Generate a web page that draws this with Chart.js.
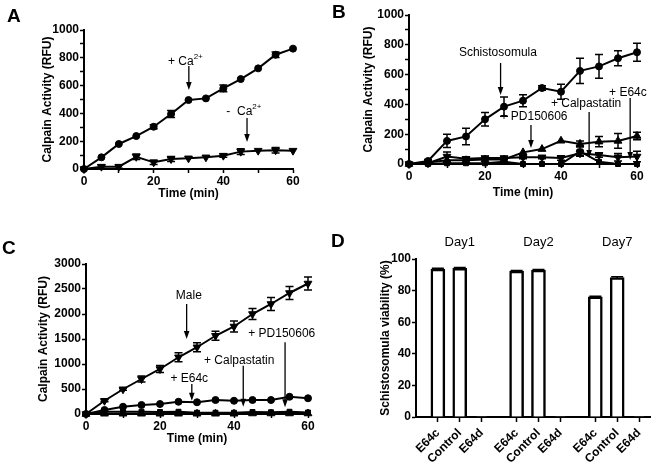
<!DOCTYPE html>
<html><head><meta charset="utf-8">
<script src="https://cdn.jsdelivr.net/npm/chart.js@4.4.1/dist/chart.umd.min.js"></script>
<style>
html,body{margin:0;padding:0;background:#fff;}
#wrap{position:relative;width:660px;height:468px;overflow:hidden;background:#fff;}
canvas{position:absolute;}
.lbl{position:absolute;font-family:'Liberation Sans',Arial,sans-serif;font-weight:bold;font-size:19px;line-height:19px;color:#000;}
</style></head><body>
<div id="wrap">
<canvas id="cA" width="330" height="234" style="left:0;top:0"></canvas>
<canvas id="cB" width="330" height="234" style="left:330px;top:0"></canvas>
<canvas id="cC" width="330" height="234" style="left:0;top:234px"></canvas>
<canvas id="cD" width="330" height="234" style="left:330px;top:234px"></canvas>
<div class="lbl" style="left:7px;top:6px">A</div>
<div class="lbl" style="left:332px;top:2px">B</div>
<div class="lbl" style="left:2px;top:238px">C</div>
<div class="lbl" style="left:331px;top:231px">D</div>
</div>
<script>
// ---------- data ----------
const times = [0,5,10,15,20,25,30,35,40,45,50,55,60];

// Panel A
const aPlusCa     = [0,84,180,237,304,396,496,508,580,647,724,822,866];
const aPlusCaErr  = [0,0,0,0,15,25,0,0,25,0,0,20,0];
const aMinusCa    = [0,17,17,88,48,72,77,84,96,125,132,135,132];
const aMinusCaErr = [0,12,12,20,15,18,0,0,12,20,0,20,0];

// Panel B
const bSchisto    = [0,20,155,185,300,385,425,510,485,625,655,710,750];
const bSchistoErr = [0,10,45,55,45,65,40,15,50,85,80,50,60];
const bPD         = [0,10,25,25,30,30,78,100,156,135,150,155,188];
const bPDErr      = [0,0,0,0,0,0,0,0,0,20,35,50,25];
const bCalp       = [0,5,50,35,40,40,45,45,40,72,60,45,50];
const bCalpErr    = [0,5,30,10,10,10,10,10,15,20,15,25,35];
const bE64c       = [0,0,5,5,5,15,0,0,0,85,15,0,0];
const bE64cErr    = [0,0,0,0,0,0,0,0,0,30,0,0,0];

// Panel C
const cMale       = [0,265,495,700,900,1135,1335,1565,1750,2000,2200,2420,2610];
const cMaleErr    = [0,20,20,60,70,90,90,90,110,110,130,130,130];
const cE64c       = [0,80,145,180,200,245,235,280,265,280,280,345,315];
const cCalp       = [0,45,45,45,40,45,25,25,25,40,35,45,30];
const cPD         = [0,5,5,5,5,5,5,5,5,10,10,10,10];

// Panel D
const dCats       = ['E64c','Control','E64d','E64c','Control','E64d','E64c','Control','E64d'];
const dViability  = [93.6,94.1,0.3,92.3,93.0,0.3,76.0,88.3,0.3];
const dErr        = [0.6,0.5,0,0.4,0.4,0,0.5,0.5,0];
const dDays       = ['Day1','Day2','Day7'];

// ---------- styling / helpers ----------
const FONT = "'Liberation Sans', Arial, sans-serif";
const TICK = {family: FONT, weight: 'bold', size: 12};
const TITLE = {family: FONT, weight: 'bold', size: 12};
const GROUP_SIZE = 3, GROUP_GAP = 0.6;
const dPos = dCats.map((c,i)=> i + Math.floor(i/GROUP_SIZE)*GROUP_GAP);

const errPlugin = {
  id:'errbars',
  afterDatasetsDraw(chart){
    const ctx = chart.ctx, ys = chart.scales.y;
    ctx.save();
    ctx.strokeStyle = '#000'; ctx.lineWidth = 1.5;
    chart.data.datasets.forEach((ds, di)=>{
      if(!ds.errors) return;
      const meta = chart.getDatasetMeta(di);
      meta.data.forEach((el, j)=>{
        const e = ds.errors[j]; if(!e) return;
        const v = ds.data[j].y;
        const x = el.x, yt = ys.getPixelForValue(v+e), yb = ys.getPixelForValue(Math.max(0,v-e));
        const cw = ds.capHalf || 4;
        ctx.beginPath();
        ctx.moveTo(x, yt); ctx.lineTo(x, yb);
        ctx.moveTo(x-cw, yt); ctx.lineTo(x+cw, yt);
        if(!ds.topOnly){ ctx.moveTo(x-cw, yb); ctx.lineTo(x+cw, yb); }
        ctx.stroke();
      });
    });
    ctx.restore();
  }
};

const annotPlugin = {
  id:'annot',
  afterDraw(chart, args, opts){
    const items = opts.items || [];
    const ctx = chart.ctx, xs = chart.scales.x, ys = chart.scales.y;
    ctx.save();
    ctx.fillStyle = '#000'; ctx.strokeStyle = '#000';
    for(const it of items){
      const tx = xs.getPixelForValue(it.tx), ty = ys.getPixelForValue(it.ty);
      ctx.font = '12px ' + FONT;
      const w1 = ctx.measureText(it.text).width;
      let w2 = 0;
      if(it.sup){ ctx.font = '8px ' + FONT; w2 = ctx.measureText(it.sup).width; }
      const x0 = tx - (w1+w2)/2;
      ctx.textBaseline = 'middle'; ctx.textAlign = 'left';
      ctx.font = '12px ' + FONT; ctx.fillText(it.text, x0, ty);
      if(it.sup){ ctx.font = '8px ' + FONT; ctx.fillText(it.sup, x0+w1, ty-5); }
      const ax = xs.getPixelForValue(it.ax), y1 = ys.getPixelForValue(it.ay1), y2 = ys.getPixelForValue(it.ay2);
      ctx.lineWidth = 1.3;
      ctx.beginPath(); ctx.moveTo(ax, y1); ctx.lineTo(ax, y2-6); ctx.stroke();
      ctx.beginPath(); ctx.moveTo(ax-2.8, y2-8); ctx.lineTo(ax+2.8, y2-8); ctx.lineTo(ax, y2); ctx.closePath(); ctx.fill();
    }
    ctx.restore();
  }
};

const dayPlugin = {
  id:'days',
  afterDraw(chart, args, opts){
    if(!opts.labels) return;
    const ctx = chart.ctx, xs = chart.scales.x;
    ctx.save();
    ctx.fillStyle = '#000'; ctx.font = '13px ' + FONT;
    ctx.textAlign = 'center'; ctx.textBaseline = 'middle';
    opts.labels.forEach((t,g)=>{
      ctx.fillText(t, xs.getPixelForValue(dPos[g*GROUP_SIZE+1]), opts.y);
    });
    ctx.restore();
  }
};

function series(vals, errs, style, extra){
  return Object.assign({
    data: times.map((t,i)=>({x:t, y:vals[i]})),
    errors: errs,
    borderColor:'#000', backgroundColor:'#000',
    pointBackgroundColor:'#000', pointBorderColor:'#000',
    borderWidth:2, pointStyle:style, pointRadius:3.5, pointBorderWidth:1,
    tension:0, clip:false
  }, extra||{});
}

function gridOpts(){ return {display:true, drawOnChartArea:false, drawTicks:true, tickLength:4, tickColor:'#000', tickWidth:1.5, color:'#000'}; }

function lineChart(id, o){
  return new Chart(document.getElementById(id), {
    type:'line',
    data:{datasets:o.datasets},
    options:{
      responsive:false, animation:false, events:[],
      layout:{padding:o.pad},
      plugins:{legend:{display:false}, tooltip:{enabled:false}, annot:{items:o.annots}},
      scales:{
        x:{type:'linear', min:0, max:60,
          ticks:{stepSize:10, autoSkip:false, maxRotation:0, color:'#000', font:TICK, padding:1, callback:v=> v%20===0 ? v : ''},
          grid:gridOpts(), border:{display:true, color:'#000', width:2},
          title:{display:true, text:'Time (min)', color:'#000', font:TITLE, padding:{top:0,bottom:0}},
          afterFit:s=>{ s.height = o.xH; }},
        y:{type:'linear', min:0, max:o.yMax,
          ticks:{stepSize:o.yStep, autoSkip:false, color:'#000', font:TICK, padding:1, callback:v=> v%o.yMajor===0 ? v : ''},
          grid:gridOpts(), border:{display:true, color:'#000', width:2},
          title:{display:true, text:'Calpain Activity (RFU)', color:'#000', font:TITLE, padding:{top:0,bottom:0}},
          afterFit:s=>{ s.width = o.yW; }}
      }
    },
    plugins:[errPlugin, annotPlugin]
  });
}

const DOWN = {pointRotation:180, pointRadius:4.5};
const UP = {pointRadius:4.5};

// ---------- Panel A ----------
lineChart('cA', {
  pad:{left:40, top:30, right:37, bottom:33}, yW:44, xH:32, yMax:1000, yStep:100, yMajor:200,
  datasets:[ series(aPlusCa, aPlusCaErr, 'circle'), series(aMinusCa, aMinusCaErr, 'triangle', DOWN) ],
  annots:[
    {text:'+ Ca', sup:'2+', tx:29.1, ty:772, ax:30.1, ay1:741, ay2:568},
    {text:'-  Ca', sup:'2+', tx:45.9, ty:412, ax:46.8, ay1:367, ay2:194}
  ]
});

// ---------- Panel B ----------
lineChart('cB', {
  pad:{left:31, top:15, right:23, bottom:34}, yW:48, xH:36, yMax:1000, yStep:100, yMajor:200,
  datasets:[
    series(bSchisto, bSchistoErr, 'circle'),
    series(bPD, bPDErr, 'triangle', UP),
    series(bCalp, bCalpErr, 'triangle', DOWN),
    series(bE64c, bE64cErr, 'rect')
  ],
  annots:[
    {text:'Schistosomula', tx:23.4, ty:745, ax:24.1, ay1:678, ay2:463},
    {text:'+ PD150606', tx:32.9, ty:315, ax:32.1, ay1:262, ay2:107},
    {text:'+ Calpastatin', tx:46.6, ty:403, ax:47.4, ay1:349, ay2:40},
    {text:'+ E64c', tx:57.6, ty:477, ax:58.2, ay1:443, ay2:27}
  ]
});

// ---------- Panel C ----------
lineChart('cC', {
  pad:{left:36, top:30, right:22, bottom:22}, yW:50, xH:32, yMax:3000, yStep:500, yMajor:500,
  datasets:[
    series(cMale, cMaleErr, 'triangle', DOWN),
    series(cE64c, null, 'circle'),
    series(cCalp, null, 'rect'),
    series(cPD, null, 'triangle', UP)
  ],
  annots:[
    {text:'Male', tx:27.8, ty:2367, ax:27.2, ay1:2200, ay2:1500},
    {text:'+ PD150606', tx:52.9, ty:1600, ax:53.8, ay1:1433, ay2:133},
    {text:'+ Calpastatin', tx:41.4, ty:1067, ax:42.5, ay1:967, ay2:147},
    {text:'+ E64c', tx:27.9, ty:700, ax:28.6, ay1:600, ay2:267}
  ]
});

// ---------- Panel D ----------
new Chart(document.getElementById('cD'), {
  type:'bar',
  data:{datasets:[{
    data: dPos.map((p,i)=>({x:p, y:dViability[i]})),
    errors: dErr, topOnly:true, capHalf:6,
    backgroundColor:'#fff', borderColor:'#000', borderWidth:2.5, barThickness:14
  }]},
  options:{
    responsive:false, animation:false, events:[],
    layout:{padding:{left:48, top:25, right:10, bottom:0}},
    plugins:{legend:{display:false}, tooltip:{enabled:false}, days:{labels:dDays, y:8}},
    scales:{
      x:{type:'linear', min:-1, max:9.7, offset:false,
        afterBuildTicks:s=>{ s.ticks = dPos.map(v=>({value:v})); },
        ticks:{autoSkip:false, minRotation:45, maxRotation:45, color:'#000', font:TICK, padding:4, callback:(v,i)=>dCats[i]},
        grid:Object.assign(gridOpts(), {offset:false, tickLength:5}), border:{display:true, color:'#000', width:2},
        afterFit:s=>{ s.height = 51; }},
      y:{type:'linear', min:0, max:100,
        ticks:{stepSize:20, autoSkip:false, color:'#000', font:TICK, padding:1},
        grid:gridOpts(), border:{display:true, color:'#000', width:2},
        title:{display:true, text:'Schistosomula viability (%)', color:'#000', font:TITLE, padding:{top:0,bottom:0}},
        afterFit:s=>{ s.width = 38; }}
    }
  },
  plugins:[errPlugin, dayPlugin]
});
</script>
</body></html>
